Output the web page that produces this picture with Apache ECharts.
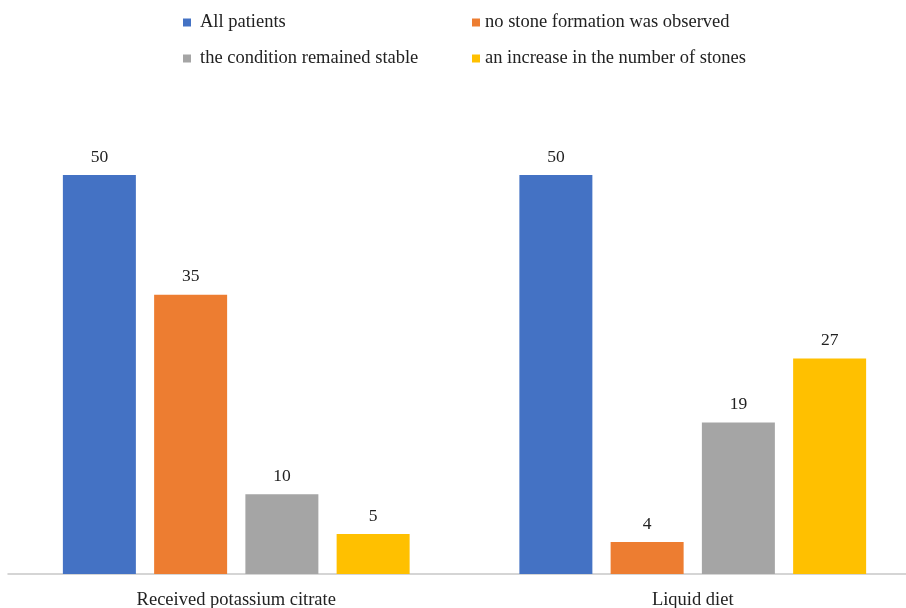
<!DOCTYPE html>
<html>

<head>
	<meta charset="UTF-8" />
	<title>Stone formation by treatment</title>
	<style>
		html, body { margin: 0; padding: 0; background: #fff; }
		#chart { width: 906px; height: 608px; }
	</style>
	<script type="text/javascript" src="https://cdn.jsdelivr.net/npm/echarts@6/dist/echarts.min.js"></script>
</head>

<body>
	<div id="chart"></div>

	<script>
		var categories = ["Received potassium citrate", "Liquid diet"];

		var seriesNames = [
			"All patients",
			"no stone formation was observed",
			"the condition remained stable",
			"an increase in the number of stones",
		];

		var allPatients = [50, 50];
		var noStones = [35, 4];
		var stable = [10, 19];
		var moreStones = [5, 27];

		var colors = ["#4472C4", "#ED7D31", "#A5A5A5", "#FFC000"];
		var font = "'Liberation Serif', 'Times New Roman', serif";

		var myChart = echarts.init(document.getElementById("chart"));

		function makeSeries(name, data, color) {
			return {
				name: name,
				type: "bar",
				data: data,
				barWidth: 73,
				barGap: "25%",
				itemStyle: { color: color },
				label: {
					show: true,
					position: "top",
					distance: 9,
					color: "#222",
					fontFamily: font,
					fontSize: 17.5,
				},
			};
		}

		function legendAt(left, names, gap) {
			return {
				orient: "vertical",
				left: left,
				top: 8,
				data: names,
				itemWidth: 8,
				itemHeight: 8,
				itemGap: 17,
				icon: "rect",
				textStyle: { fontFamily: font, fontSize: 18.5, color: "#222", padding: [0, 0, 0, gap] },
			};
		}

		var option = {
			animation: false,
			color: colors,
			legend: [
				legendAt(178, [seriesNames[0], seriesNames[2]], 4),
				legendAt(467, [seriesNames[1], seriesNames[3]], 0),
			],
			grid: {
				left: 8,
				width: 913,
				top: 175,
				bottom: 34,
				containLabel: false,
				outerBoundsMode: "none",
			},
			xAxis: {
				type: "category",
				data: categories,
				axisLine: { lineStyle: { color: "#c8c8c8", width: 1.5 } },
				axisTick: { show: false },
				axisLabel: {
					margin: 17,
					color: "#222",
					fontFamily: font,
					fontSize: 18.5,
				},
			},
			yAxis: {
				type: "value",
				min: 0,
				max: 50,
				show: false,
				splitLine: { show: false },
			},
			series: [
				makeSeries(seriesNames[0], allPatients, colors[0]),
				makeSeries(seriesNames[1], noStones, colors[1]),
				makeSeries(seriesNames[2], stable, colors[2]),
				makeSeries(seriesNames[3], moreStones, colors[3]),
			],
		};

		myChart.setOption(option);
	</script>
</body>

</html>
